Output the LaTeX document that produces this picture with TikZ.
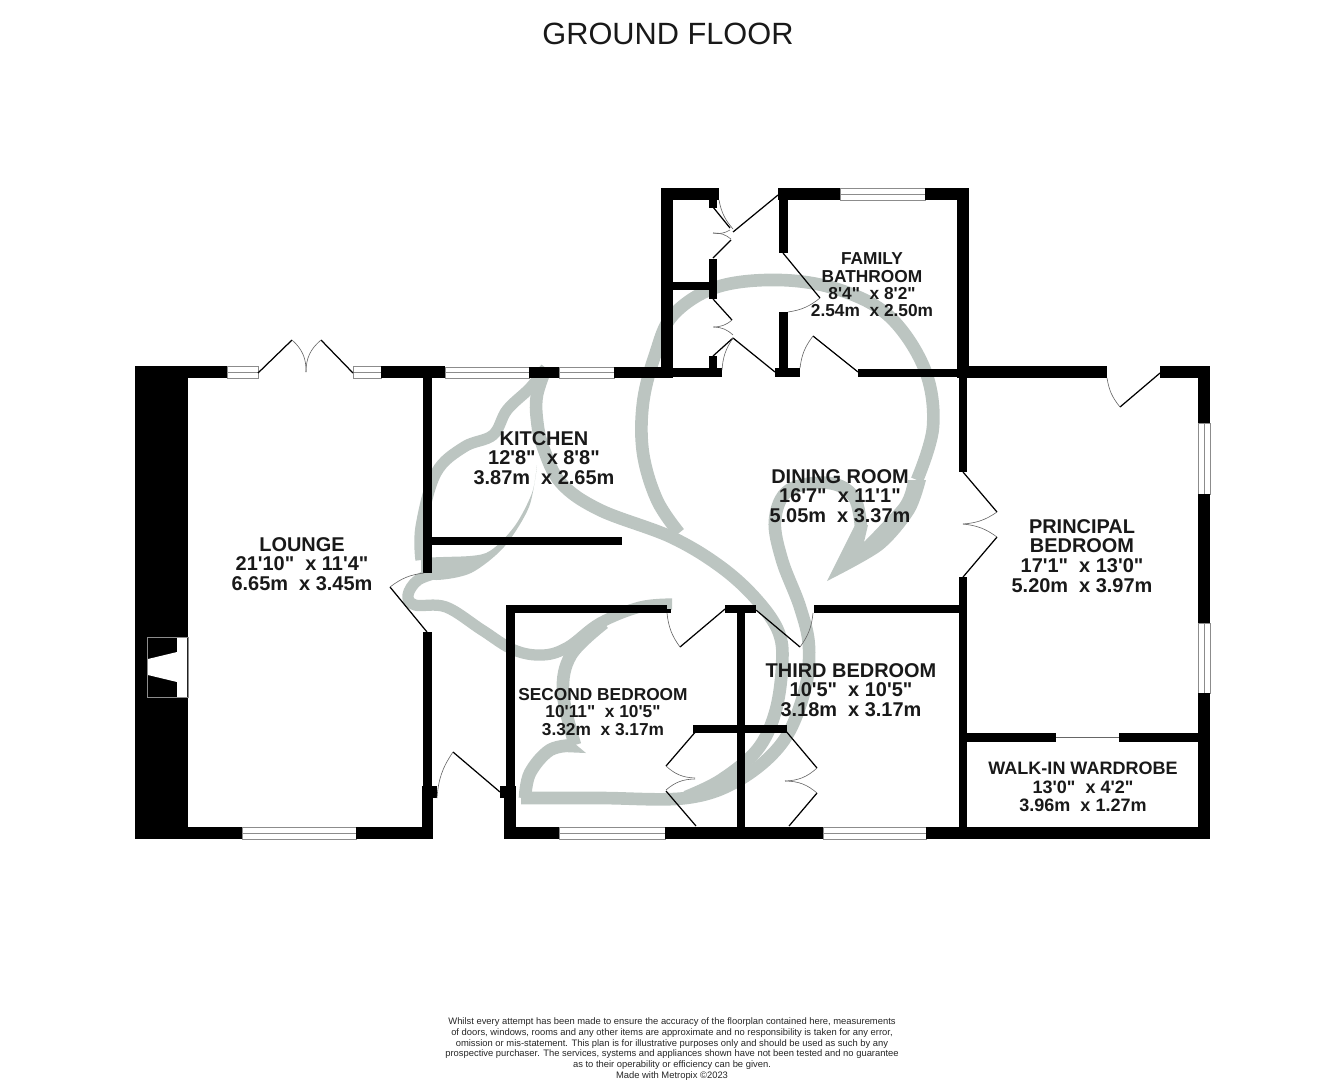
\documentclass[tikz,border=0pt]{standalone}
\usepackage{fontspec}
\newfontfamily\plansans{Liberation Sans}
\definecolor{swan}{HTML}{BCC5C1}
\def\windowh(#1,#2,#3,#4){\draw[glass] (#1, #2) rectangle (#3, #4); \draw[glass] (#1, {(#2+#4)/2}) -- (#3, {(#2+#4)/2});}
\def\windowv(#1,#2,#3,#4){\draw[glass] (#1, #2) rectangle (#3, #4); \draw[glass] ({(#1+#3)/2}, #2) -- ({(#1+#3)/2}, #4);}
\tikzset{
	wall/.style={fill=black},
	glass/.style={draw=black!45, fill=white, line width=0.35pt},
	leaf/.style={draw=black, line width=0.7pt},
	swing/.style={draw=black!60, line width=0.35pt},
	swan/.style={draw=swan, line width=7.2pt, line cap=butt, line join=round},
	swanfill/.style={fill=swan, draw=none},
	room/.style={font=\plansans\bfseries\fontsize{11.35}{11.3}\selectfont, align=center, text=black!90},
	smallroom/.style={font=\plansans\bfseries\fontsize{9.85}{9.9}\selectfont, align=center, text=black!90}
}

\begin{document}
\begin{tikzpicture}[x=0.02cm, y=-0.02cm]
		%%%%% START %%%%%
		\useasboundingbox (0, 0) rectangle (1344, 1080);
		
		% watermark
		\draw[swan] plot[smooth, tension=0.6] coordinates {(679,533) (657,500) (643,453) (643,403) (655,355) (673,315) (717,287) (780,280) (840,290) (890,317) (925,370) (933,427) (917,480)};
		\draw[swan] plot[smooth, tension=0.6] coordinates {(861,527) (854,497) (829,483) (789,490) (775,520) (782,560) (800,607) (809,647) (804,693) (782,743) (739,780) (686,798) (600,798) (521,798)};
		\draw[swan] plot[smooth, tension=0.6] coordinates {(546,368) (537,395) (537,420) (543,447) (561,483) (600,510) (671,537) (721,567) (757,600) (779,633) (782,667) (775,713) (757,750) (721,780) (686,797)};
		\draw[swan, line width=6.4pt] plot[smooth, tension=0.6] coordinates {(421,560) (421,527) (436,473) (464,447) (493,435) (507,410) (530,388) (546,368)};
		\draw[swan, line width=6.4pt] plot[smooth, tension=0.6] coordinates {(440,572) (418,580) (408,595) (415,605) (446,607) (482,630) (514,650) (543,655) (568,647) (600,623) (640,607) (672,604)};
		\draw[swan] plot[smooth, tension=0.6] coordinates {(575,745) (563,693) (571,655) (604,623)};
		\draw[swan] plot[smooth, tension=0.6] coordinates {(525,798) (530,773) (550,750) (575,745)};
		\fill[swanfill] plot[smooth] coordinates {(827,581) (882,550) (914,513) (926,480)} -- plot[smooth] coordinates {(908,480) (900,503) (864,542)} -- (868,525) -- (855,525) -- cycle;
		\fill[swanfill] (568,738) -- (586,753) -- (563,752) -- cycle;
		\fill[swanfill] plot[smooth] coordinates {(537,465) (532,493) (514,527) (486,553) (443,557) (421,557)} -- plot[smooth] coordinates {(421,573) (436,580) (471,573) (504,547) (529,507) (537,465)} -- cycle;
		
		% chimney breast
		\fill[wall] (135, 366) rectangle (188, 839);
		\fill[white] (177, 637) -- (187, 637) -- (187, 697) -- (177, 697) -- (177, 682) -- (148, 675) -- (148, 659) -- (177, 652) -- cycle;
		\draw[glass, fill=none] (147, 637) rectangle (188, 697);
		
		% outer walls
		\fill[wall] (183, 366) rectangle (227, 378);
		\windowh(227,366,258,378)
		\windowh(353,366,381,378)
		\fill[wall] (381, 366) rectangle (445, 378);
		\windowh(445,367,529,378)
		\fill[wall] (529, 367) rectangle (559, 378);
		\windowh(559,367,614,378)
		\fill[wall] (614, 367) rectangle (673, 378);
		\fill[wall] (673, 368) rectangle (722, 377);
		\fill[wall] (176, 827) rectangle (242, 839);
		\windowh(242,827,356,839)
		\fill[wall] (356, 827) rectangle (433, 839);
		\fill[wall] (422, 786) rectangle (433, 827);
		\fill[wall] (422, 786) rectangle (437, 798);
		\fill[wall] (504, 798) rectangle (516, 839);
		\fill[wall] (500, 786) rectangle (516, 798);
		\fill[wall] (504, 827) rectangle (559, 839);
		\windowh(559,827,665,839)
		\fill[wall] (665, 827) rectangle (823, 839);
		\windowh(823,827,926,839)
		\fill[wall] (926, 827) rectangle (1210, 839);
		\fill[wall] (967, 366) rectangle (1107, 378);
		\fill[wall] (1160, 366) rectangle (1210, 378);
		\fill[wall] (1198, 366) rectangle (1210, 423);
		\windowv(1198,423,1210,494)
		\fill[wall] (1198, 494) rectangle (1210, 623);
		\windowv(1198,623,1210,693)
		\fill[wall] (1198, 693) rectangle (1210, 839);
		
		% cupboards and bathroom
		\fill[wall] (661, 188) rectangle (719, 200);
		\fill[wall] (661, 188) rectangle (673, 378);
		\fill[wall] (709, 200) rectangle (717, 208);
		\fill[wall] (673, 282) rectangle (709, 290);
		\fill[wall] (709, 259) rectangle (717, 299);
		\fill[wall] (709, 356) rectangle (717, 368);
		\fill[wall] (778, 188) rectangle (840, 200);
		\windowh(840,188,925,200)
		\fill[wall] (925, 188) rectangle (969, 200);
		\fill[wall] (957, 188) rectangle (969, 378);
		\fill[wall] (779, 200) rectangle (788, 253);
		\fill[wall] (779, 312) rectangle (788, 368);
		\fill[wall] (775, 368) rectangle (800, 377);
		\fill[wall] (858, 369) rectangle (970, 377);
		
		% inner walls
		\fill[wall] (423, 378) rectangle (432, 573);
		\fill[wall] (432, 537) rectangle (622, 545);
		\fill[wall] (423, 632) rectangle (432, 786);
		\fill[wall] (506, 605) rectangle (515, 798);
		\fill[wall] (506, 605) rectangle (667, 613);
		\fill[wall] (667, 609) rectangle (671, 613);
		\fill[wall] (725, 605) rectangle (756, 613);
		\fill[wall] (737, 613) rectangle (745, 827);
		\fill[wall] (693, 725) rectangle (787, 733);
		\fill[wall] (814, 605) rectangle (961, 613);
		\fill[wall] (959, 378) rectangle (967, 472);
		\fill[wall] (959, 577) rectangle (967, 827);
		\fill[wall] (967, 733) rectangle (1056, 742);
		\fill[wall] (1119, 733) rectangle (1198, 742);
		\draw[swing] (1056, 737) -- (1119, 737);
		
		% doors
		\draw[leaf] (258, 373) -- (292, 340);
		\draw[swing] (292, 340) to[bend left=25] (306, 372);
		\draw[leaf] (353, 373) -- (321, 340);
		\draw[swing] (321, 340) to[bend right=25] (306, 372);
		\draw[leaf] (427, 632) -- (390, 587);
		\draw[swing] (390, 587) to[bend left=15] (424, 573);
		\draw[leaf] (500, 792) -- (453, 752);
		\draw[swing] (453, 752) to[bend right=15] (437, 798);
		\draw[leaf] (725, 609) -- (680, 647);
		\draw[swing] (680, 647) to[bend left=15] (667, 613);
		\draw[leaf] (756, 610) -- (800, 647);
		\draw[swing] (800, 647) to[bend right=15] (813, 613);
		\draw[leaf] (697, 730) -- (666, 766);
		\draw[swing] (666, 766) to[bend right=20] (695, 778);
		\draw[leaf] (696, 826) -- (666, 791);
		\draw[swing] (666, 790) to[bend left=20] (695, 779);
		\draw[leaf] (785, 730) -- (817, 768);
		\draw[swing] (817, 768) to[bend left=20] (785, 781);
		\draw[leaf] (789, 826) -- (817, 793);
		\draw[swing] (817, 793) to[bend right=20] (785, 781);
		\draw[leaf] (1160, 373) -- (1120, 407);
		\draw[swing] (1120, 407) to[bend left=15] (1107, 378);
		\draw[leaf] (963, 472) -- (997, 512);
		\draw[swing] (997, 512) to[bend left=15] (963, 524);
		\draw[leaf] (963, 577) -- (997, 537);
		\draw[swing] (997, 537) to[bend right=15] (963, 524);
		\draw[leaf] (713, 207) -- (730, 228);
		\draw[swing] (730, 230) to[bend left=20] (713, 233);
		\draw[leaf] (713, 258) -- (731, 240);
		\draw[swing] (731, 239) to[bend right=20] (713, 233);
		\draw[leaf] (778, 195) -- (733, 232);
		\draw[swing] (733, 229) to[bend left=15] (719, 200);
		\draw[leaf] (713, 299) -- (732, 320);
		\draw[swing] (732, 320) to[bend left=20] (713, 327);
		\draw[leaf] (713, 356) -- (733, 338);
		\draw[swing] (733, 335) to[bend right=20] (714, 327);
		\draw[leaf] (775, 372) -- (733, 338);
		\draw[swing] (733, 338) to[bend right=15] (722, 370);
		\draw[leaf] (783, 253) -- (820, 298);
		\draw[swing] (820, 298) to[bend left=15] (788, 312);
		\draw[leaf] (858, 372) -- (813, 336);
		\draw[swing] (813, 336) to[bend right=15] (800, 368);
		
		% labels
		\node[font=\plansans\fontsize{17.5}{20}\selectfont, text=black!90] (title) at (668, 34) {GROUND FLOOR};
		\node[room] (lounge) at (302, 564) {LOUNGE\\21'10"~~x 11'4"\\6.65m~~x 3.45m};
		\node[room] (kitchen) at (544, 458) {KITCHEN\\12'8"~~x 8'8"\\3.87m~~x 2.65m};
		\node[room] (dining) at (840, 496) {DINING ROOM\\16'7"~~x 11'1"\\5.05m~~x 3.37m};
		\node[room] (principal) at (1082, 556) {PRINCIPAL\\BEDROOM\\17'1"~~x 13'0"\\5.20m~~x 3.97m};
		\node[smallroom] (bathroom) at (872, 285) {FAMILY\\BATHROOM\\8'4"~~x 8'2"\\2.54m~~x 2.50m};
		\node[smallroom] (second) at (603, 712) {SECOND BEDROOM\\10'11"~~x 10'5"\\3.32m~~x 3.17m};
		\node[room] (third) at (851, 690) {THIRD BEDROOM\\10'5"~~x 10'5"\\3.18m~~x 3.17m};
		\node[smallroom, font=\plansans\bfseries\fontsize{10.25}{10.5}\selectfont] (wardrobe) at (1083, 787) {WALK-IN WARDROBE\\13'0"~~x 4'2"\\3.96m~~x 1.27m};
		\node[font=\plansans\fontsize{5.35}{6.05}\selectfont, align=center, text=black!85] (disclaimer) at (672, 1049) {Whilst every attempt has been made to ensure the accuracy of the floorplan contained here, measurements\\of doors, windows, rooms and any other items are approximate and no responsibility is taken for any error,\\omission or mis-statement. This plan is for illustrative purposes only and should be used as such by any\\prospective purchaser. The services, systems and appliances shown have not been tested and no guarantee\\as to their operability or efficiency can be given.\\Made with Metropix ©2023};
		
		%%%%% END %%%%%
	\end{tikzpicture}
\end{document}
